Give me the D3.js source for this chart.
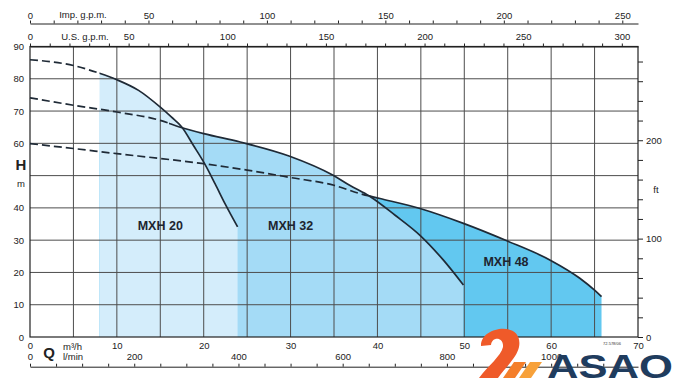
<!DOCTYPE html>
<html>
<head>
<meta charset="utf-8">
<script src="https://cdn.jsdelivr.net/npm/d3@7"></script>
<style>
body { margin: 0; background: #fff; }
svg { display: block; font-family: "Liberation Sans", Arial, sans-serif; }
</style>
</head>
<body>
<svg id="chart" width="675" height="379"></svg>
<script>
// pump curves, flow Q in m3/h, head H in m
var mxh20Q = [0, 5, 8, 10, 12.5, 15, 16.3, 17.5, 18.8, 20.1, 21.3, 22.45, 23.9];
var mxh20H = [85.9, 84.1, 81.7, 79.7, 76.4, 71.2, 68.1, 65, 59.4, 53.7, 47.5, 41.3, 34.1];

var mxh32Q = [0, 5, 10, 15, 17.3, 20, 24.2, 29.9, 34.9, 36.8, 39.1, 42, 44.9, 47.6, 49.9];
var mxh32H = [74.1, 71.8, 69.7, 67.1, 65, 63, 60.4, 56, 50.1, 47, 43.6, 37.8, 31.5, 23.8, 16.1];

var mxh48Q = [0, 5, 10, 15, 20, 25, 30, 35, 38, 40.3, 44.9, 49.9, 54.9, 59.9, 63.3, 65, 65.8];
var mxh48H = [59.9, 58.4, 56.8, 55.3, 53.7, 51.7, 49.4, 47, 44.4, 42.9, 39.8, 35.2, 29.8, 23.8, 18.2, 14.5, 12.5];

var seriesNames = ['MXH 48', 'MXH 32', 'MXH 20'];
var solidFrom = [39, 16, 8];      // curve drawn dashed left of this flow
var rangeFrom = 8;                // coloured working range starts here

var headTicks = [0, 10, 20, 30, 40, 60, 70, 80, 90];
var flowTicks = [0, 10, 20, 30, 40, 50, 60, 70];
var ftLabels = [0, 100, 200];
var impLabels = [0, 50, 100, 150, 200, 250];
var usLabels = [0, 50, 100, 150, 200, 250, 300];
var lminLabels = [0, 200, 400, 600, 800, 1000];

var data = [
  {q: mxh48Q, h: mxh48H},
  {q: mxh32Q, h: mxh32H},
  {q: mxh20Q, h: mxh20H}
];
var fills = ['#62c8f0', '#a4dbf6', '#d4edfb'];
var labelAt = [[54.8, 23.2], [30, 34.5], [15, 34.5]];

var svg = d3.select('#chart');

var x = d3.scaleLinear().domain([0, 70]).range([30, 638]);
var y = d3.scaleLinear().domain([0, 90]).range([337, 46.5]);

// unit conversions
var impPerM3h = 1000 / 60 / 4.54609;
var usPerM3h = 1000 / 60 / 3.785411;
var lminPerM3h = 1000 / 60;
var ftPerM = 3.28084;

var xImp = d3.scaleLinear().domain([0, 70 * impPerM3h]).range([30, 638]);
var xUs = d3.scaleLinear().domain([0, 70 * usPerM3h]).range([30, 638]);
var xLmin = d3.scaleLinear().domain([0, 70 * lminPerM3h]).range([30, 638]);
var yFt = d3.scaleLinear().domain([0, 90 * ftPerM]).range([337, 46.5]);

var defs = svg.append('defs');

data.forEach(function(s, i) {
  var pts = s.q.map((q, j) => [q, s.h[j]]);
  s.pts = pts;
  defs.append('clipPath').attr('id', 'range' + i)
    .append('rect').attr('x', x(rangeFrom)).attr('y', 0).attr('width', 700).attr('height', 400);
  defs.append('clipPath').attr('id', 'dash' + i)
    .append('rect').attr('x', 0).attr('y', 0).attr('width', x(solidFrom[i])).attr('height', 400);
  defs.append('clipPath').attr('id', 'solid' + i)
    .append('rect').attr('x', x(solidFrom[i])).attr('y', 0).attr('width', 700).attr('height', 400);
});

var area = d3.area()
  .x(d => x(d[0]))
  .y0(y(0))
  .y1(d => y(d[1]))
  .curve(d3.curveMonotoneX);

var line = d3.line()
  .x(d => x(d[0]))
  .y(d => y(d[1]))
  .curve(d3.curveMonotoneX);

// coloured areas
svg.append('g').selectAll('path')
  .data(data)
  .enter().append('path')
    .attr('d', d => area(d.pts))
    .attr('fill', (d, i) => fills[i])
    .attr('clip-path', (d, i) => 'url(#range' + i + ')');

// grid
var grid = svg.append('g').attr('stroke', '#4d4d4d').attr('stroke-width', 1);
grid.selectAll('.v')
  .data(d3.range(5, 70, 5))
  .enter().append('line')
    .attr('x1', d => x(d)).attr('x2', d => x(d))
    .attr('y1', y(0)).attr('y2', y(90));
grid.selectAll('.h')
  .data(d3.range(10, 90, 10))
  .enter().append('line')
    .attr('x1', x(0)).attr('x2', x(70))
    .attr('y1', d => y(d)).attr('y2', d => y(d));

svg.append('rect')
  .attr('x', x(0)).attr('y', y(90))
  .attr('width', x(70) - x(0)).attr('height', y(0) - y(90))
  .attr('fill', 'none').attr('stroke', '#222').attr('stroke-width', 1.2);

// curves
var curves = svg.append('g').attr('fill', 'none').attr('stroke', '#1f2a36').attr('stroke-width', 1.7);
data.forEach(function(s, i) {
  curves.append('path').attr('d', line(s.pts))
    .attr('stroke-dasharray', '8,4')
    .attr('clip-path', 'url(#dash' + i + ')');
  curves.append('path').attr('d', line(s.pts))
    .attr('clip-path', 'url(#solid' + i + ')');
});

// series labels
svg.append('g').selectAll('text')
  .data(seriesNames)
  .enter().append('text')
    .attr('x', (d, i) => x(labelAt[i][0]))
    .attr('y', (d, i) => y(labelAt[i][1]))
    .attr('text-anchor', 'middle')
    .attr('dy', '0.35em')
    .style('font', 'bold 12.5px "Liberation Sans", Arial, sans-serif')
    .attr('fill', '#1d2530')
    .text(d => d);

function styleAxis(g) {
  g.selectAll('text').style('font-size', '9.5px').style('font-family', '"Liberation Sans", Arial, sans-serif').attr('fill', '#222');
  g.selectAll('line, path').attr('stroke', '#222');
}

// left H axis
svg.append('g')
  .attr('transform', `translate(${x(0)},0)`)
  .call(d3.axisLeft(y).tickValues(headTicks).tickSize(0).tickPadding(6))
  .call(g => g.select('.domain').remove())
  .call(styleAxis);

svg.append('text').attr('x', 21).attr('y', 165).attr('dy', '0.35em')
  .attr('text-anchor', 'middle').style('font', 'bold 15px "Liberation Sans", Arial, sans-serif')
  .attr('fill', '#222').text('H');
svg.append('text').attr('x', 21).attr('y', 184).attr('dy', '0.35em')
  .attr('text-anchor', 'middle').style('font', '9.5px "Liberation Sans", Arial, sans-serif')
  .attr('fill', '#222').text('m');

// right ft axis
svg.append('g')
  .attr('transform', `translate(${x(70)},0)`)
  .call(d3.axisRight(yFt).tickValues(d3.range(0, 290, 20)).tickSize(5).tickSizeOuter(0).tickPadding(3)
    .tickFormat(d => ftLabels.indexOf(d) >= 0 ? d : ''))
  .call(g => g.select('.domain').remove())
  .call(styleAxis);
svg.append('text').attr('x', 656).attr('y', 190).attr('dy', '0.35em')
  .attr('text-anchor', 'middle').style('font', '9.5px "Liberation Sans", Arial, sans-serif')
  .attr('fill', '#222').text('ft');

// top Imp. g.p.m. axis
svg.append('g')
  .attr('transform', 'translate(0,23.5)')
  .call(d3.axisTop(xImp).tickValues(d3.range(0, 260, 10)).tickSize(3).tickSizeOuter(0).tickPadding(2)
    .tickFormat(d => impLabels.indexOf(d) >= 0 ? d : ''))
  .call(styleAxis);
svg.append('text').attr('x', 83).attr('y', 18)
  .attr('text-anchor', 'middle').style('font', '9.5px "Liberation Sans", Arial, sans-serif')
  .attr('fill', '#222').text('Imp. g.p.m.');

// top U.S. g.p.m. axis
svg.append('g')
  .attr('transform', `translate(0,${y(90)})`)
  .call(d3.axisTop(xUs).tickValues(d3.range(0, 310, 10)).tickSize(3).tickSizeOuter(0).tickPadding(3.5)
    .tickFormat(d => usLabels.indexOf(d) >= 0 ? d : ''))
  .call(styleAxis);
svg.append('text').attr('x', 85).attr('y', 40)
  .attr('text-anchor', 'middle').style('font', '9.5px "Liberation Sans", Arial, sans-serif')
  .attr('fill', '#222').text('U.S. g.p.m.');

// bottom m3/h labels
svg.append('g')
  .attr('transform', `translate(0,${y(0)})`)
  .call(d3.axisBottom(x).tickValues(flowTicks).tickSize(0).tickPadding(5))
  .call(g => g.select('.domain').remove())
  .call(styleAxis);

// bottom l/min axis
svg.append('g')
  .attr('transform', 'translate(0,366.7)')
  .call(d3.axisTop(xLmin).tickValues(d3.range(0, 1200, 50)).tickSize(3).tickSizeOuter(0).tickPadding(3.5)
    .tickFormat(d => lminLabels.indexOf(d) >= 0 ? d : ''))
  .call(styleAxis);

svg.append('text').attr('x', 49).attr('y', 358)
  .style('font', 'bold 15px "Liberation Sans", Arial, sans-serif').attr('text-anchor', 'middle')
  .attr('fill', '#222').text('Q');
svg.append('text').attr('x', 63).attr('y', 349.5)
  .style('font', '9.5px "Liberation Sans", Arial, sans-serif').attr('fill', '#222')
  .text('m³/h');
svg.append('text').attr('x', 63).attr('y', 360)
  .style('font', '9.5px "Liberation Sans", Arial, sans-serif').attr('fill', '#222')
  .text('l/min');

svg.append('text').attr('x', 612).attr('y', 344.5)
  .attr('text-anchor', 'middle').style('font', '4px "Liberation Sans", Arial, sans-serif')
  .attr('fill', '#333').text('72.578/06');

// logo
var logo = svg.append('g');
logo.append('path')
  .attr('d', 'M481,346 C480,326 524,320 519,347 C517,357 506,367 498,378 L479,378 C488,366 501,356 503,347 C504,337 492,336 491,345 Z')
  .attr('fill', '#ef5a29');
logo.append('path').attr('d', 'M503,378 L514,362 L526,362 L515,378 Z').attr('fill', '#f47e2a');
logo.append('path').attr('d', 'M519,378 L530,362 L542,362 L531,378 Z').attr('fill', '#f7a13a');
logo.append('text').attr('x', 547).attr('y', 377.5)
  .attr('textLength', 126).attr('lengthAdjust', 'spacingAndGlyphs')
  .style('font', 'bold 34px "Liberation Sans", Arial, sans-serif')
  .attr('fill', '#1f3c5e').text('ASAO');
</script>
</body>
</html>
